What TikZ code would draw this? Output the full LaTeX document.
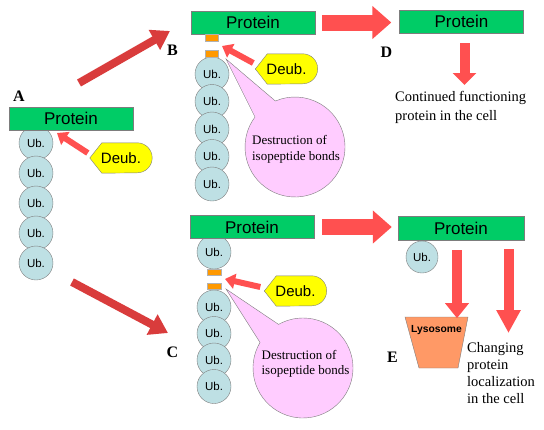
\documentclass[tikz,border=0pt]{standalone}
\usepackage{fontspec}
\setmainfont{Liberation Serif}
\newfontfamily\arialfont{Liberation Sans}
\usetikzlibrary{arrows.meta,shapes.callouts,backgrounds}

\definecolor{protgreen}{RGB}{0,204,102}
\definecolor{ubblue}{RGB}{190,224,228}
\definecolor{deubyellow}{RGB}{255,255,0}
\definecolor{bondorange}{RGB}{255,153,0}
\definecolor{bubblepink}{RGB}{255,204,255}
\definecolor{lysoorange}{RGB}{255,153,102}
\definecolor{blockred}{RGB}{255,80,80}
\definecolor{diagred}{RGB}{217,60,60}
\definecolor{edgegray}{RGB}{125,125,125}

\tikzset{
  protein/.style={draw=edgegray, fill=protgreen, minimum width=124pt, minimum height=23pt, inner sep=0pt, font=\arialfont\fontsize{17}{17}\selectfont},
  ub/.style={circle, draw=edgegray, fill=ubblue, minimum size=34pt, inner sep=0pt, font=\arialfont\fontsize{11.5}{11.5}\selectfont},
  bond/.style={draw=edgegray!60, fill=bondorange, minimum width=13pt, minimum height=7pt, inner sep=0pt},
  deub/.style={minimum width=62pt, minimum height=30pt, inner sep=0pt, font=\arialfont\fontsize{15}{15}\selectfont},
  deubshape/.style={draw=edgegray, fill=deubyellow},
  panel/.style={inner sep=0pt, font=\bfseries\fontsize{16}{16}\selectfont},
  bubble/.style={ellipse callout, draw=edgegray, fill=bubblepink, minimum size=100pt, inner sep=0pt, callout pointer arc=30},
  bubbletext/.style={align=left, inner sep=0pt, font=\fontsize{13}{15.5}\selectfont},
  note/.style={align=left, inner sep=0pt, font=\fontsize{14.5}{19}\selectfont},
  bigarrow/.style={draw=blockred, line width=16pt, -{Triangle[width=32pt,length=19pt]}},
  downarrow/.style={draw=blockred, line width=10pt, -{Triangle[width=23pt,length=#1]}},
  downarrow/.default=15pt,
  deubarrow/.style={draw=blockred, line width=6pt, -{Triangle[width=15pt,length=10pt]}},
  diagarrow/.style={draw=diagred, line width=8pt, -{Triangle[width=22pt,length=18pt]}},
  lyso/.style={draw=edgegray, fill=lysoorange}
}

\begin{document}
\begin{tikzpicture}[x=1pt,y=1pt]
\useasboundingbox (0,0) rectangle (544,-429);

% panel A
\node[ub] (ubA1) at (36,-143) {Ub.};
\node[ub] (ubA2) at (36,-173) {Ub.};
\node[ub] (ubA3) at (36,-203) {Ub.};
\node[ub] (ubA4) at (36,-233) {Ub.};
\node[ub] (ubA5) at (36,-263) {Ub.};
\node[protein] (protA) at (71,-118.5) {Protein};
\node[panel] (labA) at (19,-96) {A};
\node[deub] (deubA) at (121,-158) {Deub.};
\coordinate (gapA) at (57,-133);
\draw[deubarrow] ([shift={(-2pt,5pt)}]deubA.west) -- (gapA);

% panel B
\node[ub] (ubB1) at (212,-74) {Ub.};
\node[ub] (ubB2) at (212,-101.5) {Ub.};
\node[ub] (ubB3) at (212,-129) {Ub.};
\node[ub] (ubB4) at (212,-156.5) {Ub.};
\node[ub] (ubB5) at (212,-184) {Ub.};
\node[protein] (protB) at (253,-22.5) {Protein};
\node[bond] (bondB1) at (211.5,-37.5) {};
\node[bond] (bondB2) at (211.5,-53.5) {};
\node[panel] (labB) at (172.5,-50) {B};
\node[bubble, callout absolute pointer={(226,-59)}] (bubB) at (295,-147) {};
\node[bubbletext] (txtB) at (296,-149.5) {Destruction of\\isopeptide bonds};
\node[deub] (deubB) at (286.5,-69) {Deub.};
\coordinate (gapB) at (222,-46);
\draw[deubarrow] ([shift={(-2pt,6pt)}]deubB.west) -- (gapB);

% panel C
\node[ub] (ubC1) at (214,-252) {Ub.};
\node[ub] (ubC2) at (214,-307) {Ub.};
\node[ub] (ubC3) at (214,-333.5) {Ub.};
\node[ub] (ubC4) at (214,-360) {Ub.};
\node[ub] (ubC5) at (214,-386.5) {Ub.};
\node[protein] (protC) at (252,-227) {Protein};
\node[bond, minimum width=14pt, minimum height=6pt] (bondC1) at (214,-272) {};
\node[bond, minimum width=14pt, minimum height=6pt] (bondC2) at (214,-286) {};
\node[panel] (labC) at (172.5,-352.5) {C};
\node[bubble, callout absolute pointer={(226,-289)}] (bubC) at (303,-368) {};
\node[bubbletext] (txtC) at (305.5,-364) {Destruction of\\isopeptide bonds};
\node[deub] (deubC) at (295.5,-291) {Deub.};
\coordinate (gapC) at (225,-279);
\draw[deubarrow] ([shift={(-4pt,4pt)}]deubC.west) -- (gapC);

% yellow Deub. tags
\begin{scope}[on background layer]
\foreach \d in {deubA,deubB,deubC}
  \draw[deubshape] (\d.west) -- ([xshift=12pt]\d.north west) -- ([xshift=-15pt]\d.north east)
    arc[start angle=90, end angle=-90, radius=15pt] -- ([xshift=12pt]\d.south west) -- cycle;
\end{scope}

% panel D
\node[protein] (protD) at (461.5,-21.5) {Protein};
\node[panel] (labD) at (386.5,-52.5) {D};
\node[note, anchor=north west] (cont) at (395,-91) {Continued functioning\\protein in the cell};
\draw[downarrow=12pt, shorten <=10pt, shorten >=6pt] ([xshift=3pt]protD.south) -- ([xshift=3pt]protD.south |- cont.north);

% panel E
\node[ub, minimum size=32pt] (ubE) at (422,-257) {Ub.};
\node[protein, minimum width=126pt, minimum height=24pt] (protE) at (461,-228) {Protein};
\node[panel] (labE) at (392.5,-357.5) {E};
\draw[lyso] (405,-317) -- (468,-317) -- (458,-368) -- (419,-368) -- cycle;
\node[inner sep=0pt, font=\arialfont\bfseries\fontsize{10.3}{10.3}\selectfont] (lysoTxt) at (436.5,-330) {Lysosome};
\node[note, anchor=north west, font=\fontsize{14.5}{17}\selectfont] (change) at (467,-342) {Changing\\protein\\localization\\in the cell};
\draw[downarrow=15pt, shorten <=10pt, shorten >=7pt] ([xshift=-4pt]protE.south) -- ([xshift=-4pt]protE.south |- lysoTxt.north);
\draw[downarrow=23pt, shorten <=9pt, shorten >=9pt] ([xshift=47.5pt]protE.south) -- ([xshift=47.5pt]protE.south |- change.north);

% between panels
\coordinate (fromA1) at (79,-83);
\coordinate (toB) at (170,-31);
\coordinate (fromA2) at (72,-282);
\coordinate (toC) at (168,-333);
\draw[diagarrow] (fromA1) -- (toB);
\draw[diagarrow] (fromA2) -- (toC);
\draw[bigarrow, shorten <=7pt, shorten >=8pt] (protB.east) -- (protB.east -| protD.west);
\draw[bigarrow, shorten <=8pt, shorten >=6pt] (protC.east) -- (protC.east -| protE.west);
\end{tikzpicture}
\end{document}
